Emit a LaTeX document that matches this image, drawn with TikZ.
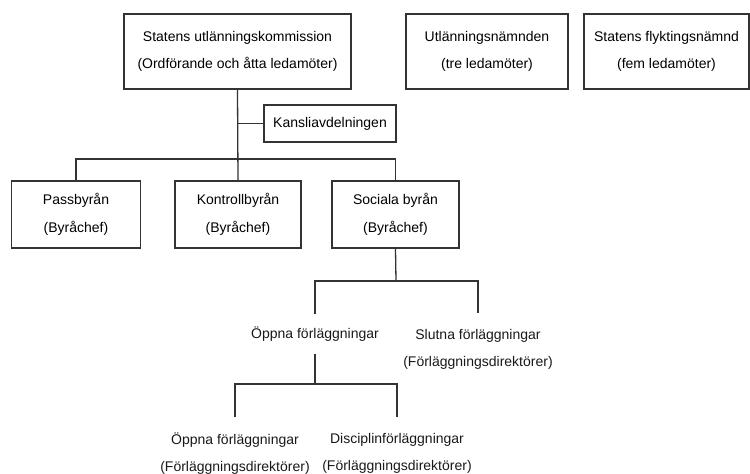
\documentclass[tikz,border=0pt]{standalone}
\usepackage{fontspec}
\setmainfont{Liberation Sans}

\begin{document}
\begin{tikzpicture}[x=1pt,y=-1pt,line width=1.3pt,draw=black!80,
    font=\fontsize{14}{27.5}\selectfont,
    boxed/.style={draw=black!80,align=center,inner sep=0pt,minimum height=75},
    bureau/.style={draw=black!80,align=center,inner sep=0pt,minimum height=67},
    label/.style={align=center,inner sep=0pt,text=black!90}]
    \useasboundingbox (0,0) rectangle (750,474);

    \node[boxed,minimum width=227] (kommission) at (237.5,51.5) {Statens utlänningskommission\\(Ordförande och åtta ledamöter)};
    \node[boxed,minimum width=162] (utlnamnd) at (487,51.5) {Utlänningsnämnden\\(tre ledamöter)};
    \node[boxed,minimum width=165] (flyktnamnd) at (666.5,51.5) {Statens flyktingsnämnd\\(fem ledamöter)};
    \node[draw=black!80,inner sep=0pt,minimum width=132,minimum height=37] (kansli) at (330,123.5) {Kansliavdelningen};

    \node[bureau,minimum width=129] (pass) at (76,214.5) {Passbyrån\\(Byråchef)};
    \node[bureau,minimum width=126] (kontroll) at (238,214.5) {Kontrollbyrån\\(Byråchef)};
    \node[bureau,minimum width=127] (sociala) at (395.5,214.5) {Sociala byrån\\(Byråchef)};

    \node[label,minimum height=39] (oppna) at (315,334) {Öppna förläggningar};
    \node[label,minimum height=71] (slutna) at (478,349.5) {Slutna förläggningar\\(Förläggningsdirektörer)};
    \node[label,minimum height=71] (oppnadir) at (235,453.5) {Öppna förläggningar\\(Förläggningsdirektörer)};
    \node[label,minimum height=71] (disciplin) at (397,453.5) {Disciplinförläggningar\\(Förläggningsdirektörer)};

    % kommission och byråer
    \coordinate (bar1) at (238,159);
    \draw (kommission.south) -- (kontroll.north);
    \draw (kansli.west) -- (kansli.west -| kommission.south);
    \draw (pass.north) |- (bar1) -| (sociala.north);

    % förläggningar
    \coordinate (bar2) at (396,281);
    \draw (sociala.south) -- (bar2);
    \draw (oppna.north) |- (bar2) -| (slutna.north);
    \coordinate (bar3) at (315,384);
    \draw (oppna.south) -- (bar3);
    \draw (oppnadir.north) |- (bar3) -| (disciplin.north);
\end{tikzpicture}
\end{document}
